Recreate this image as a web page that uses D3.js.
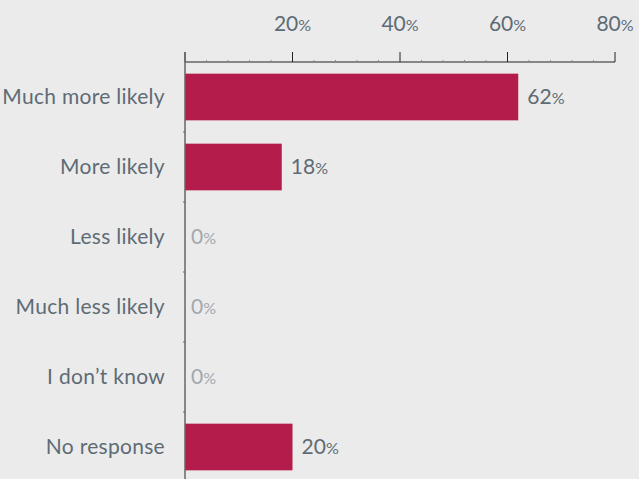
<!DOCTYPE html>
<html>
<head>
<meta charset="utf-8">
<script src="https://cdn.jsdelivr.net/npm/d3@7"></script>
<style>
  html, body { margin: 0; padding: 0; background: #ebebeb; }
  svg { display: block; }
  text { font-family: Lato, "Open Sans", sans-serif; font-weight: 400; }
</style>
</head>
<body>
<svg id="chart" width="639" height="479"></svg>
<script>
// Survey responses (percent of respondents)
const categories = ["Much more likely", "More likely", "Less likely", "Much less likely", "I don\u2019t know", "No response"];
const values = [62, 18, 0, 0, 0, 20];
const majorTicks = [0, 20, 40, 60, 80];
const minorTicks = d3.range(0, 81, 4);

const width = 639, height = 479;
const margin = { top: 62, right: 24, left: 185 };

const svg = d3.select("#chart");

const x = d3.scaleLinear()
  .domain([0, 80])
  .range([margin.left, width - margin.right]);

const y = d3.scaleBand()
  .domain(categories)
  .range([margin.top, margin.top + 70 * categories.length])
  .paddingInner(1 / 3)
  .paddingOuter(1 / 6);

const textColor = "#5e6b75";
const barColor = "#b41c4b";

// bars
svg.append("g")
  .selectAll("rect")
  .data(categories)
  .join("rect")
  .attr("x", x(0))
  .attr("y", d => y(d))
  .attr("width", (d, i) => x(values[i]) - x(0))
  .attr("height", y.bandwidth())
  .attr("fill", barColor);

// top axis
const xAxis = svg.append("g").attr("transform", `translate(0,${margin.top})`);
xAxis.append("line")
  .attr("x1", x(0)).attr("x2", x(80))
  .attr("y1", 0).attr("y2", 0)
  .attr("stroke", "#222").attr("stroke-width", 1);
xAxis.selectAll("line.minor")
  .data(minorTicks.filter(v => v % 20 !== 0))
  .join("line")
  .attr("class", "minor")
  .attr("x1", d => x(d)).attr("x2", d => x(d))
  .attr("y1", -2).attr("y2", 0)
  .attr("stroke", "#888").attr("stroke-width", 1);
xAxis.selectAll("line.major")
  .data(majorTicks)
  .join("line")
  .attr("class", "major")
  .attr("x1", d => x(d)).attr("x2", d => x(d))
  .attr("y1", -10).attr("y2", 0)
  .attr("stroke", "#222").attr("stroke-width", 1);
const tickLabels = xAxis.selectAll("text")
  .data(majorTicks.filter(v => v > 0))
  .join("text")
  .attr("x", d => x(d))
  .attr("y", -31)
  .attr("text-anchor", "middle")
  .attr("fill", textColor)
  .attr("font-size", 21);
tickLabels.append("tspan").text(d => d);
tickLabels.append("tspan").attr("font-size", 16).text("%");

// left axis
const yAxis = svg.append("g");
yAxis.append("line")
  .attr("x1", x(0)).attr("x2", x(0))
  .attr("y1", margin.top - 10).attr("y2", height)
  .attr("stroke", "#666").attr("stroke-width", 1.5);
yAxis.selectAll("line.tick")
  .data(categories.slice(1))
  .join("line")
  .attr("class", "tick")
  .attr("x1", x(0) - 2).attr("x2", x(0))
  .attr("y1", d => y(d) - y.step() * y.paddingInner() / 2)
  .attr("y2", d => y(d) - y.step() * y.paddingInner() / 2)
  .attr("stroke", "#666").attr("stroke-width", 1);

// category labels
svg.append("g")
  .selectAll("text")
  .data(categories)
  .join("text")
  .attr("x", x(0) - 20)
  .attr("y", d => y(d) + y.bandwidth() / 2)
  .attr("dy", "0.35em")
  .attr("text-anchor", "end")
  .attr("fill", textColor)
  .attr("font-size", 21)
  .attr("letter-spacing", 0.3)
  .text(d => d);

// value labels
const valueLabels = svg.append("g")
  .selectAll("text")
  .data(categories)
  .join("text")
  .attr("x", (d, i) => x(values[i]) + (values[i] === 0 ? 6 : 9))
  .attr("y", d => y(d) + y.bandwidth() / 2)
  .attr("dy", "0.35em")
  .attr("fill", (d, i) => values[i] === 0 ? "#a3a8ad" : textColor)
  .attr("font-size", 21);
valueLabels.append("tspan").text((d, i) => values[i]);
valueLabels.append("tspan").attr("font-size", 16).text("%");
</script>
</body>
</html>
